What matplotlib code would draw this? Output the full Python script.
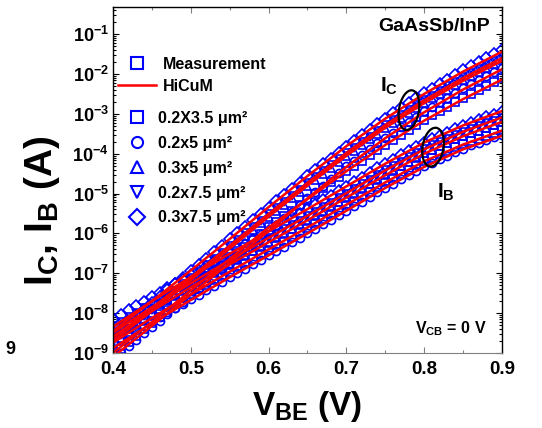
import numpy as np
import matplotlib
matplotlib.use('Agg')
import matplotlib.pyplot as plt
from matplotlib.lines import Line2D
from matplotlib.patches import Ellipse
from matplotlib.ticker import FuncFormatter, LogLocator, MultipleLocator, NullFormatter

plt.rcParams['font.family'] = ['Liberation Sans', 'DejaVu Sans']
plt.rcParams['font.weight'] = 'bold'
plt.rcParams['mathtext.fontset'] = 'custom'
plt.rcParams['mathtext.rm'] = 'Liberation Sans:bold'
plt.rcParams['mathtext.bf'] = 'Liberation Sans:bold'
plt.rcParams['mathtext.it'] = 'Liberation Sans:bold'

# measured sweep (V_BE in V), currents stored as log10(I/A)
vbe = [0.40, 0.41, 0.42, 0.43, 0.44, 0.45, 0.46, 0.47, 0.48, 0.49,
       0.50, 0.51, 0.52, 0.53, 0.54, 0.55, 0.56, 0.57, 0.58, 0.59,
       0.60, 0.61, 0.62, 0.63, 0.64, 0.65, 0.66, 0.67, 0.68, 0.69,
       0.70, 0.71, 0.72, 0.73, 0.74, 0.75, 0.76, 0.77, 0.78, 0.79,
       0.80, 0.81, 0.82, 0.83, 0.84, 0.85, 0.86, 0.87, 0.88, 0.89, 0.90]

devices = ['0.2X3.5 μm²', '0.2x5 μm²', '0.3x5 μm²', '0.2x7.5 μm²', '0.3x7.5 μm²']
markers = ['s', 'o', '^', 'v', 'D']

ic_02x35 = [-9.05, -8.89, -8.73, -8.57, -8.41, -8.25, -8.09, -7.93, -7.77, -7.61,
            -7.45, -7.29, -7.13, -6.97, -6.81, -6.65, -6.49, -6.33, -6.17, -6.01,
            -5.85, -5.71, -5.57, -5.43, -5.29, -5.15, -5.01, -4.87, -4.72, -4.58,
            -4.44, -4.31, -4.17, -4.04, -3.90, -3.77, -3.65, -3.52, -3.40, -3.27,
            -3.15, -3.04, -2.93, -2.82, -2.71, -2.60, -2.50, -2.40, -2.30, -2.20, -2.10]
ic_02x5 = [-9.15, -8.99, -8.83, -8.67, -8.51, -8.35, -8.19, -8.03, -7.87, -7.71,
           -7.55, -7.39, -7.23, -7.07, -6.91, -6.75, -6.59, -6.43, -6.27, -6.11,
           -5.95, -5.78, -5.62, -5.45, -5.29, -5.12, -4.96, -4.80, -4.64, -4.48,
           -4.32, -4.18, -4.03, -3.89, -3.74, -3.60, -3.47, -3.34, -3.20, -3.07,
           -2.94, -2.82, -2.71, -2.59, -2.48, -2.36, -2.26, -2.16, -2.05, -1.95, -1.85]
ic_03x5 = [-8.79, -8.63, -8.47, -8.31, -8.15, -7.99, -7.83, -7.67, -7.51, -7.35,
           -7.19, -7.03, -6.87, -6.71, -6.55, -6.39, -6.23, -6.07, -5.91, -5.75,
           -5.59, -5.43, -5.28, -5.12, -4.97, -4.81, -4.66, -4.51, -4.36, -4.21,
           -4.06, -3.92, -3.78, -3.64, -3.50, -3.36, -3.23, -3.10, -2.97, -2.85,
           -2.72, -2.61, -2.50, -2.39, -2.27, -2.16, -2.06, -1.95, -1.85, -1.75, -1.65]
ic_02x75 = [-8.72, -8.56, -8.40, -8.24, -8.08, -7.92, -7.76, -7.60, -7.44, -7.28,
            -7.12, -6.96, -6.80, -6.64, -6.48, -6.32, -6.16, -6.00, -5.84, -5.68,
            -5.52, -5.36, -5.21, -5.05, -4.90, -4.74, -4.59, -4.44, -4.29, -4.14,
            -3.99, -3.85, -3.71, -3.57, -3.43, -3.29, -3.16, -3.03, -2.90, -2.78,
            -2.65, -2.54, -2.42, -2.31, -2.19, -2.08, -1.98, -1.88, -1.78, -1.68, -1.58]
ic_03x75 = [-8.55, -8.39, -8.23, -8.07, -7.91, -7.75, -7.59, -7.43, -7.27, -7.11,
            -6.95, -6.79, -6.63, -6.47, -6.31, -6.15, -5.99, -5.83, -5.67, -5.51,
            -5.35, -5.19, -5.04, -4.88, -4.73, -4.57, -4.42, -4.27, -4.12, -3.97,
            -3.82, -3.68, -3.54, -3.40, -3.26, -3.12, -2.99, -2.86, -2.73, -2.61,
            -2.48, -2.37, -2.25, -2.14, -2.02, -1.91, -1.81, -1.70, -1.60, -1.50, -1.40]

ib_02x35 = [-8.61, -8.50, -8.39, -8.28, -8.17, -8.06, -7.95, -7.84, -7.73, -7.62,
            -7.51, -7.40, -7.29, -7.18, -7.07, -6.96, -6.85, -6.74, -6.63, -6.52,
            -6.41, -6.30, -6.19, -6.08, -5.97, -5.86, -5.75, -5.63, -5.52, -5.40,
            -5.29, -5.18, -5.06, -4.95, -4.83, -4.72, -4.61, -4.50, -4.40, -4.29,
            -4.18, -4.10, -4.01, -3.93, -3.84, -3.76, -3.69, -3.62, -3.55, -3.48, -3.41]
ib_02x5 = [-8.75, -8.64, -8.53, -8.42, -8.31, -8.20, -8.09, -7.98, -7.87, -7.76,
           -7.65, -7.54, -7.43, -7.32, -7.21, -7.10, -6.99, -6.88, -6.77, -6.66,
           -6.55, -6.44, -6.33, -6.22, -6.11, -6.00, -5.89, -5.77, -5.66, -5.54,
           -5.43, -5.32, -5.20, -5.09, -4.97, -4.86, -4.75, -4.64, -4.54, -4.43,
           -4.32, -4.23, -4.14, -4.05, -3.96, -3.87, -3.79, -3.72, -3.65, -3.59, -3.53]
ib_03x5 = [-8.43, -8.32, -8.21, -8.10, -7.99, -7.88, -7.77, -7.66, -7.55, -7.44,
           -7.33, -7.22, -7.11, -7.00, -6.89, -6.78, -6.67, -6.56, -6.45, -6.34,
           -6.23, -6.12, -6.01, -5.90, -5.79, -5.68, -5.57, -5.45, -5.34, -5.22,
           -5.11, -5.00, -4.88, -4.77, -4.65, -4.54, -4.43, -4.32, -4.21, -4.10,
           -3.99, -3.90, -3.81, -3.73, -3.64, -3.56, -3.49, -3.42, -3.35, -3.28, -3.21]
ib_02x75 = [-8.32, -8.21, -8.10, -7.99, -7.88, -7.77, -7.66, -7.55, -7.44, -7.33,
            -7.22, -7.11, -7.00, -6.89, -6.78, -6.67, -6.56, -6.45, -6.34, -6.23,
            -6.12, -6.01, -5.90, -5.79, -5.68, -5.57, -5.46, -5.34, -5.23, -5.11,
            -5.00, -4.88, -4.76, -4.65, -4.53, -4.42, -4.31, -4.20, -4.09, -3.98,
            -3.88, -3.79, -3.70, -3.62, -3.53, -3.45, -3.38, -3.31, -3.24, -3.17, -3.10]
ib_03x75 = [-8.15, -8.04, -7.93, -7.82, -7.71, -7.60, -7.49, -7.38, -7.27, -7.16,
            -7.05, -6.94, -6.83, -6.72, -6.61, -6.50, -6.39, -6.28, -6.17, -6.06,
            -5.95, -5.84, -5.73, -5.62, -5.51, -5.40, -5.29, -5.17, -5.06, -4.94,
            -4.83, -4.72, -4.60, -4.49, -4.37, -4.26, -4.15, -4.04, -3.94, -3.83,
            -3.72, -3.64, -3.55, -3.47, -3.38, -3.30, -3.23, -3.16, -3.09, -3.02, -2.95]

# HiCuM model curves
vbe_mod = [0.40, 0.45, 0.50, 0.55, 0.60, 0.65, 0.70, 0.75, 0.80, 0.85, 0.90]
ic_mod = [
    [-9.00, -8.22, -7.43, -6.64, -5.85, -5.14, -4.44, -3.78, -3.17, -2.63, -2.14],
    [-9.10, -8.32, -7.53, -6.74, -5.94, -5.12, -4.33, -3.61, -2.96, -2.39, -1.88],
    [-8.70, -7.95, -7.17, -6.38, -5.58, -4.80, -4.05, -3.35, -2.73, -2.17, -1.67],
    [-8.62, -7.87, -7.10, -6.31, -5.51, -4.73, -3.98, -3.28, -2.66, -2.10, -1.60],
    [-8.45, -7.70, -6.93, -6.14, -5.34, -4.56, -3.81, -3.12, -2.50, -1.94, -1.44],
]
ib_mod = [
    [-8.74, -8.12, -7.53, -6.96, -6.40, -5.85, -5.28, -4.72, -4.19, -3.77, -3.42],
    [-8.88, -8.25, -7.67, -7.10, -6.55, -6.00, -5.43, -4.86, -4.33, -3.89, -3.55],
    [-8.58, -7.95, -7.35, -6.78, -6.22, -5.67, -5.10, -4.54, -4.00, -3.56, -3.20],
    [-8.49, -7.85, -7.25, -6.67, -6.11, -5.56, -4.99, -4.42, -3.89, -3.45, -3.09],
    [-8.34, -7.70, -7.09, -6.51, -5.95, -5.39, -4.82, -4.25, -3.72, -3.29, -2.93],
]

ic_meas = [ic_02x35, ic_02x5, ic_03x5, ic_02x75, ic_03x75]
ib_meas = [ib_02x35, ib_02x5, ib_03x5, ib_02x75, ib_03x75]

blue = '#0000FF'
red = '#FF0000'

fig = plt.figure(figsize=(5.42, 4.28), dpi=100)
ax = fig.add_axes([0.2085, 0.1752, 0.7175, 0.8084])

for m, ic, ib in zip(markers, ic_meas, ib_meas):
    for y in (ic, ib):
        ax.plot(vbe, 10.0 ** np.array(y), ls='none', marker=m, ms=5.8,
                mfc='none', mec=blue, mew=1.2)
for ic, ib in zip(ic_mod, ib_mod):
    for y in (ic, ib):
        ax.plot(vbe_mod, 10.0 ** np.array(y), color=red, lw=1.8)

ax.set_yscale('log')
ax.set_xlim(0.4, 0.9)
ax.set_ylim(1e-9, 0.48)

ax.xaxis.set_major_locator(MultipleLocator(0.1))
ax.xaxis.set_minor_locator(MultipleLocator(0.05))
ax.yaxis.set_major_locator(LogLocator(base=10, numticks=20))
ax.yaxis.set_minor_locator(LogLocator(base=10, subs=np.arange(2, 10), numticks=20))
ax.yaxis.set_minor_formatter(NullFormatter())
ax.yaxis.set_major_formatter(FuncFormatter(lambda v, p: r'$10^{%d}$' % round(np.log10(v))))
ax.xaxis.set_major_formatter(FuncFormatter(lambda v, p: '%.1f' % v))

ax.tick_params(which='both', direction='in', top=True, right=True, width=0.8)
ax.tick_params(which='major', length=4)
ax.tick_params(which='minor', length=2)
ax.tick_params(axis='x', labelsize=13.5, pad=6)
ax.tick_params(axis='y', labelsize=13, pad=3)
for lab in ax.get_xticklabels() + ax.get_yticklabels():
    lab.set_fontweight('bold')
ax.spines['bottom'].set_color('#808080')
ax.tick_params(axis='x', which='both', color='#808080')
for s in ('left', 'top', 'right'):
    ax.spines[s].set_linewidth(1.0)

# legends
h1 = [Line2D([], [], ls='none', marker='s', ms=8, mfc='none', mec=blue, mew=1.5),
      Line2D([], [], color=red, lw=1.8)]
leg1 = ax.legend(h1, ['Measurement', 'HiCuM'], loc='upper left',
                 bbox_to_anchor=(0.013, 0.856), borderaxespad=0, borderpad=0,
                 frameon=False, handlelength=2.4, handletextpad=0.4,
                 labelspacing=0.42, prop={'size': 11.5, 'weight': 'bold'})
ax.add_artist(leg1)
h2 = [Line2D([], [], ls='none', marker=m, ms=8, mfc='none', mec=blue, mew=1.5)
      for m in markers]
ax.legend(h2, devices, loc='upper left', bbox_to_anchor=(0.031, 0.70),
          borderaxespad=0, borderpad=0, frameon=False, handlelength=1.5,
          handletextpad=0.55, labelspacing=0.62,
          prop={'size': 11.5, 'weight': 'bold'})

ax.text(0.97, 0.945, 'GaAsSb/InP', transform=ax.transAxes, ha='right',
        va='center', fontsize=14, fontweight='bold')
ax.text(0.96, 0.07, r'V$_{\mathrm{CB}}$ = 0 V', transform=ax.transAxes,
        ha='right', va='center', fontsize=11.5, fontweight='bold')
ax.text(0.71, 0.77, r'I$_{\mathrm{C}}$', transform=ax.transAxes, ha='center',
        va='center', fontsize=15, fontweight='bold')
ax.text(0.855, 0.465, r'I$_{\mathrm{B}}$', transform=ax.transAxes, ha='center',
        va='center', fontsize=15, fontweight='bold')
ax.add_patch(Ellipse((0.761, 0.702), 0.0514, 0.1156, angle=-8, zorder=5,
                     transform=ax.transAxes, fill=False, ec='black', lw=1.6))
ax.add_patch(Ellipse((0.823, 0.595), 0.0540, 0.1130, angle=-8, zorder=5,
                     transform=ax.transAxes, fill=False, ec='black', lw=1.6))

fig.text(42 / 542, 1 - 211 / 428, r'I$_{\mathrm{C}}$, I$_{\mathrm{B}}$ (A)',
         rotation=90, ha='center', va='center', fontsize=28, fontweight='bold')
fig.text(307 / 542, 1 - 406 / 428, r'V$_{\mathrm{BE}}$ (V)', ha='center',
         va='center', fontsize=24, fontweight='bold')
fig.text(10 / 542, 1 - 350 / 428, '9', ha='center', va='center',
         fontsize=13, fontweight='bold')

fig.savefig('out.png', dpi=100)
